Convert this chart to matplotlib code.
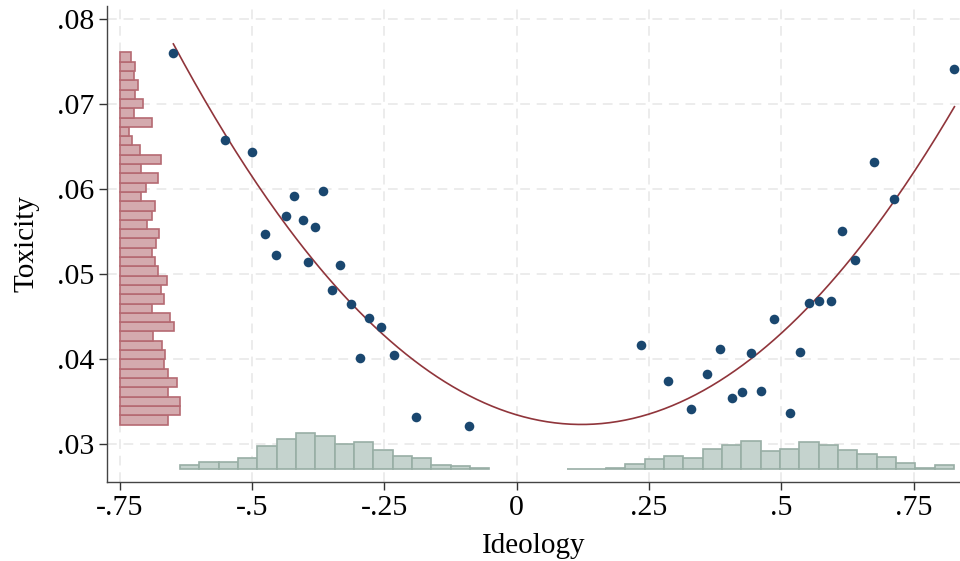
import numpy as np
import matplotlib
matplotlib.use("Agg")
import matplotlib.pyplot as plt

plt.rcParams['font.family'] = ['Liberation Serif', 'DejaVu Serif']

# binned scatter: ideology vs toxicity
ideo_left = [-0.6489, -0.5512, -0.5008, -0.4203, -0.3660, -0.4354, -0.4033, -0.3806, -0.4751, -0.4548,
             -0.3944, -0.3333, -0.3485, -0.3137, -0.2785, -0.2559, -0.2955, -0.2313, -0.1897, -0.0901]
tox_left = [0.0760, 0.06575, 0.06434, 0.05920, 0.05982, 0.05684, 0.05641, 0.05558, 0.05472, 0.05222,
            0.05139, 0.05107, 0.04810, 0.04648, 0.04480, 0.04381, 0.04016, 0.04048, 0.03318, 0.03208]
ideo_right = [0.2343, 0.2859, 0.3294, 0.3590, 0.3842, 0.4074, 0.4252, 0.4422, 0.4616, 0.4862,
              0.5159, 0.5353, 0.5523, 0.5712, 0.5939, 0.6147, 0.6398, 0.6752, 0.7124, 0.8269]
tox_right = [0.04162, 0.03738, 0.03412, 0.03824, 0.04118, 0.03538, 0.03612, 0.04071, 0.03620, 0.04472,
             0.03361, 0.04087, 0.04656, 0.04684, 0.04689, 0.05511, 0.05166, 0.06324, 0.05884, 0.07411]

# quadratic fit coefficients (a, b, c)
fit_coef = [0.07534, -0.01842, 0.03343]

# toxicity histogram (horizontal, 40 bins)
tox_bin_lo, tox_bin_hi = 0.0323, 0.0761
tox_freq = [11.3, 15.6, 14.3, 18.6, 15.6, 23.0, 14.0, 32.3, 9.6, 12.6,
            20.3, 41.3, 21.6, 38.3, 26.3, 21.6, 35.3, 32.0, 27.6, 39.6,
            36.3, 32.0, 35.0, 38.3, 47.3, 41.0, 44.3, 32.0, 50.0, 54.6,
            33.3, 42.6, 45.6, 44.3, 48.3, 57.6, 48.6, 60.3, 60.3, 48.6]
tox_freq = tox_freq[::-1]  # bottom to top

# ideology histograms (two groups)
ideo_bin_w = 0.03655
ideo_left_start = -0.6365
ideo_left_freq = [3.7, 7.3, 7.3, 10.7, 22.7, 30.3, 36.3, 32.7, 25.0, 26.7, 18.7, 12.7, 10.7, 3.7, 2.7, 0.7]
ideo_right_start = 0.0951
ideo_right_freq = [0.3, 0.3, 1.0, 4.7, 9.7, 12.7, 10.7, 19.7, 24.0, 27.7,
                   18.0, 20.0, 26.7, 24.0, 18.7, 14.7, 11.7, 5.7, 0.7, 3.7]

fig = plt.figure(figsize=(9.6, 5.61), dpi=100)
ax = fig.add_axes([0.1115, 0.1408, 0.8885, 0.8485])
ax.set_xlim(-0.7742, 0.8374)
ax.set_ylim(0.02553, 0.08157)

# histograms
hx_scale = 1 / 529.2
hy_scale = 1 / 8494
tox_edges = np.linspace(tox_bin_lo, tox_bin_hi, len(tox_freq) + 1)
tox_h = tox_edges[1] - tox_edges[0]
ax.barh(tox_edges[:-1], np.array(tox_freq) * hx_scale, height=tox_h, left=-0.75, align='edge',
        color='#d4aaae', edgecolor='#b56a72', linewidth=1.2, zorder=2)

base = 0.02706
for start, freq in [(ideo_left_start, ideo_left_freq), (ideo_right_start, ideo_right_freq)]:
    xs = start + ideo_bin_w * np.arange(len(freq))
    ax.bar(xs, np.array(freq) * hy_scale, width=ideo_bin_w, bottom=base, align='edge',
           color='#c5d3ce', edgecolor='#98aea5', linewidth=1.2, zorder=2)

# fitted curve
all_x = ideo_left + ideo_right
xx = np.linspace(min(all_x), max(all_x), 300)
ax.plot(xx, np.polyval(fit_coef, xx), color='#90353b', lw=1.2, zorder=3)

ax.scatter(ideo_left + ideo_right, tox_left + tox_right, s=48, color='#1a476f', zorder=4, linewidths=0)

xticks = [-0.75, -0.5, -0.25, 0, 0.25, 0.5, 0.75]
xlabels = ['-.75', '-.5', '-.25', '0', '.25', '.5', '.75']
yticks = [0.03, 0.04, 0.05, 0.06, 0.07, 0.08]
ylabels = ['.03', '.04', '.05', '.06', '.07', '.08']
ax.set_xticks(xticks, xlabels)
ax.set_yticks(yticks, ylabels)
ax.tick_params(labelsize=21.5, length=6, width=1, direction='out', pad=3, color='#333333')

ax.grid(True, color='#ececec', linestyle=(0, (5, 3.5)), linewidth=1.4)
ax.set_axisbelow(True)
for s in ['top', 'right']:
    ax.spines[s].set_visible(False)
for s in ['left', 'bottom']:
    ax.spines[s].set_color('#444444')
    ax.spines[s].set_linewidth(1.0)

ax.set_xlabel('Ideology', fontsize=21, labelpad=9)
ax.set_ylabel('Toxicity', fontsize=21, labelpad=13)

fig.savefig('out.png', dpi=100)
